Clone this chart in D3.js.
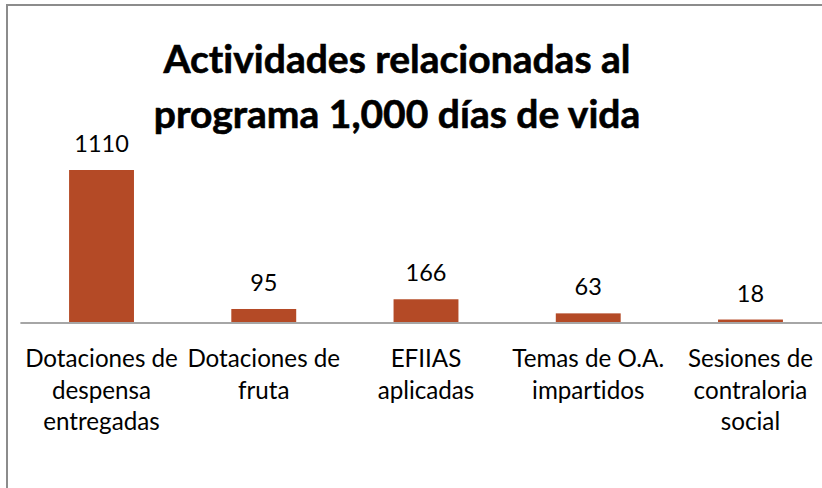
<!DOCTYPE html>
<html>
<head>
<meta charset="utf-8">
<script src="https://cdn.jsdelivr.net/npm/d3@7"></script>
<style>
  body { margin: 0; background: #fff; }
  text { font-family: Lato, "Open Sans", sans-serif; fill: #000; font-variant-ligatures: none; }
</style>
</head>
<body>
<div id="chart"></div>
<script>
// Chart data
const categories = [
    ["Dotaciones de", "despensa", "entregadas"],
    ["Dotaciones de", "fruta"],
    ["EFIIAS", "aplicadas"],
    ["Temas de O.A.", "impartidos"],
    ["Sesiones de", "contraloria", "social"]
];
const values = [1110, 95, 166, 63, 18];
const titleLines = ["Actividades relacionadas al", "programa 1,000 días de vida"];

const width = 822;
const height = 488;

const svg = d3.select("#chart")
              .append("svg")
              .attr("width", width)
              .attr("height", height);

// Chart border (runs past the right and bottom edge)
svg.append("rect")
   .attr("x", 7)
   .attr("y", 5)
   .attr("width", 900)
   .attr("height", 600)
   .attr("fill", "none")
   .attr("stroke", "#8c8c8c")
   .attr("stroke-width", 2);

// Scales
const x = d3.scaleBand()
            .domain(d3.range(categories.length))
            .range([20.4, 831.6])
            .paddingInner(0.6)
            .paddingOuter(0.3);

const baseY = 322;
const y = d3.scaleLinear()
            .domain([0, 1200])
            .range([baseY, baseY - 1200 * 152 / 1110]);

// Title
svg.selectAll(".title")
   .data(titleLines)
   .enter().append("text")
   .attr("class", "title")
   .attr("x", 397)
   .attr("y", (d, i) => 73 + i * 55)
   .attr("text-anchor", "middle")
   .attr("font-size", 39)
   .attr("font-weight", "bold")
   .attr("stroke", "#000")
   .attr("stroke-width", 0.6)
   .text(d => d);

// Bars
svg.selectAll(".bar")
   .data(values)
   .enter().append("rect")
   .attr("class", "bar")
   .attr("x", (d, i) => x(i))
   .attr("y", d => y(d))
   .attr("width", x.bandwidth())
   .attr("height", d => y(0) - y(d))
   .attr("fill", "#b44a26");

// Value labels
svg.selectAll(".value")
   .data(values)
   .enter().append("text")
   .attr("class", "value")
   .attr("x", (d, i) => x(i) + x.bandwidth() / 2)
   .attr("y", d => y(d) - 18)
   .attr("text-anchor", "middle")
   .attr("font-size", 23.5)
   .text(d => d);

// Category axis line
svg.append("line")
   .attr("x1", x.range()[0])
   .attr("x2", x.range()[1])
   .attr("y1", baseY + 1)
   .attr("y2", baseY + 1)
   .attr("stroke", "#a6a6a6")
   .attr("stroke-width", 2);

// Category labels (wrapped lines)
const cat = svg.selectAll(".cat")
               .data(categories)
               .enter().append("text")
               .attr("class", "cat")
               .attr("text-anchor", "middle")
               .attr("font-size", 24.2);

cat.selectAll("tspan")
   .data((d, i) => d.map(line => ({ line: line, i: i })))
   .enter().append("tspan")
   .attr("x", d => x(d.i) + x.bandwidth() / 2)
   .attr("y", (d, j) => 367 + j * 31.5)
   .text(d => d.line);
</script>
</body>
</html>
